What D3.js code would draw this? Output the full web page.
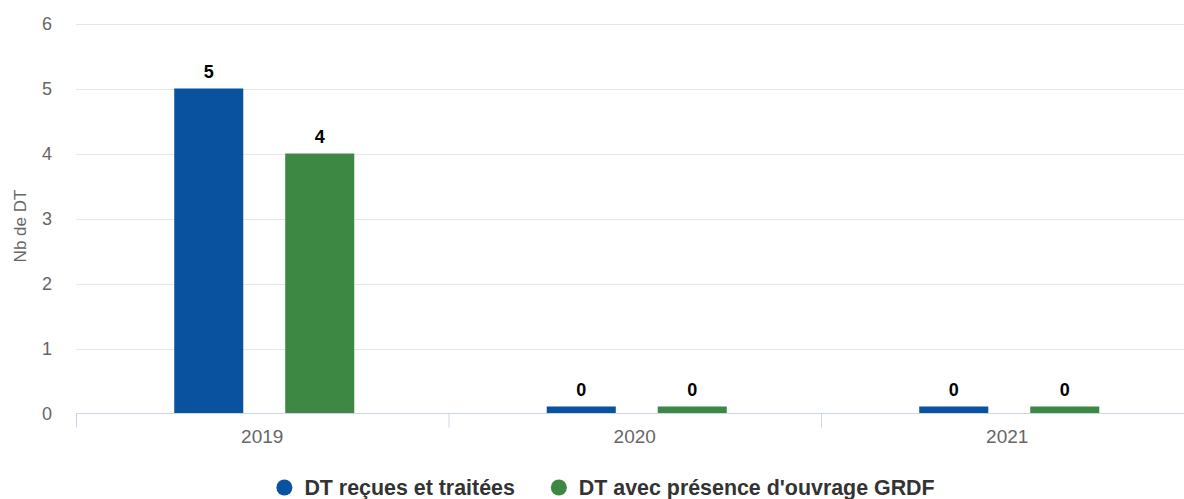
<!DOCTYPE html>
<html>
<head>
<meta charset="utf-8">
<script src="https://cdn.jsdelivr.net/npm/d3@7"></script>
<style>
  body { margin: 0; background: #fff; }
  svg { display: block; font-family: "Liberation Sans", Arial, sans-serif; }
</style>
</head>
<body>
<div id="chart"></div>
<script>
// data
const years = ["2019", "2020", "2021"]
const seriesNames = ["DT reçues et traitées", "DT avec présence d'ouvrage GRDF"]
const recues = [5, 0, 0]
const avecOuvrage = [4, 0, 0]
const yTicks = [0, 1, 2, 3, 4, 5, 6]
const colors = ["#0852a0", "#3d8944"]

const width = 1184
const height = 499
const plotLeft = 76, plotRight = 1193.5, plotTop = 23.5, plotBottom = 413.5

const svg = d3.select("#chart").append("svg").attr("width", width).attr("height", height)

const x0 = d3.scaleBand().domain(years).range([plotLeft, plotRight])
const x1 = d3.scaleBand().domain(seriesNames).range([0, x0.bandwidth()]).paddingInner(0.378).paddingOuter(0.867)
const y = d3.scaleLinear().domain([0, 6]).range([plotBottom, plotTop])

// grid
svg.append("g").selectAll("line").data(yTicks.filter(d => d > 0)).enter().append("line")
	.attr("x1", plotLeft).attr("x2", width)
	.attr("y1", d => Math.round(y(d)) + 0.5).attr("y2", d => Math.round(y(d)) + 0.5)
	.attr("stroke", "#e6e6e6").attr("stroke-width", 1)

// y labels
svg.append("g").selectAll("text").data(yTicks).enter().append("text")
	.attr("x", 52).attr("y", d => y(d) + 6)
	.attr("text-anchor", "end").attr("fill", "#666").style("font-size", "18px")
	.text(d => d)

svg.append("text")
	.attr("transform", "translate(26," + 226 + ") rotate(-90)")
	.attr("text-anchor", "middle").attr("fill", "#666").style("font-size", "17px")
	.text("Nb de DT")

// bars
const rows = years.map((yr, i) => ({ year: yr, values: [recues[i], avecOuvrage[i]] }))
const minLen = 7

const g = svg.selectAll(".grp").data(rows).enter().append("g")
	.attr("transform", d => "translate(" + (x0(d.year) + 2) + ",0)")

g.selectAll("rect").data(d => d.values.map((v, k) => ({ v: v, k: k }))).enter().append("rect")
	.attr("x", d => x1(seriesNames[d.k]))
	.attr("width", x1.bandwidth())
	.attr("y", d => Math.min(y(d.v), plotBottom - minLen))
	.attr("height", d => Math.max(plotBottom - y(d.v), minLen))
	.attr("fill", d => colors[d.k])

g.selectAll("text").data(d => d.values.map((v, k) => ({ v: v, k: k }))).enter().append("text")
	.attr("x", d => x1(seriesNames[d.k]) + x1.bandwidth() / 2)
	.attr("y", d => Math.min(y(d.v), plotBottom - minLen) - 11)
	.attr("text-anchor", "middle").attr("font-weight", "bold").attr("fill", "#000")
	.style("font-size", "18px")
	.text(d => d.v)

// x axis
svg.append("line").attr("x1", plotLeft).attr("x2", width).attr("y1", plotBottom).attr("y2", plotBottom)
	.attr("stroke", "#ccd6eb").attr("stroke-width", 1)

svg.append("g").selectAll("line").data(years).enter().append("line")
	.attr("x1", d => x0(d) + 0.5).attr("x2", d => x0(d) + 0.5)
	.attr("y1", plotBottom).attr("y2", plotBottom + 14)
	.attr("stroke", "#ccd6eb").attr("stroke-width", 1)

svg.append("g").selectAll("text").data(years).enter().append("text")
	.attr("x", d => x0(d) + x0.bandwidth() / 2).attr("y", 443)
	.attr("text-anchor", "middle").attr("fill", "#666").style("font-size", "19px")
	.text(d => d)

// legend
const legend = svg.append("g")
let pos = 0
seriesNames.forEach((name, i) => {
	const item = legend.append("g").attr("transform", "translate(" + pos + ",0)")
	item.append("circle").attr("cx", 8).attr("cy", 487.5).attr("r", 8).attr("fill", colors[i])
	const t = item.append("text").attr("x", 28).attr("y", 494.5)
		.attr("font-weight", "bold").attr("fill", "#333").style("font-size", "21.4px")
		.text(name)
	pos += 28 + t.node().getComputedTextLength() + 36
})
const legendW = pos - 36
legend.attr("transform", "translate(" + (605.5 - legendW / 2) + ",0)")
</script>
</body>
</html>
